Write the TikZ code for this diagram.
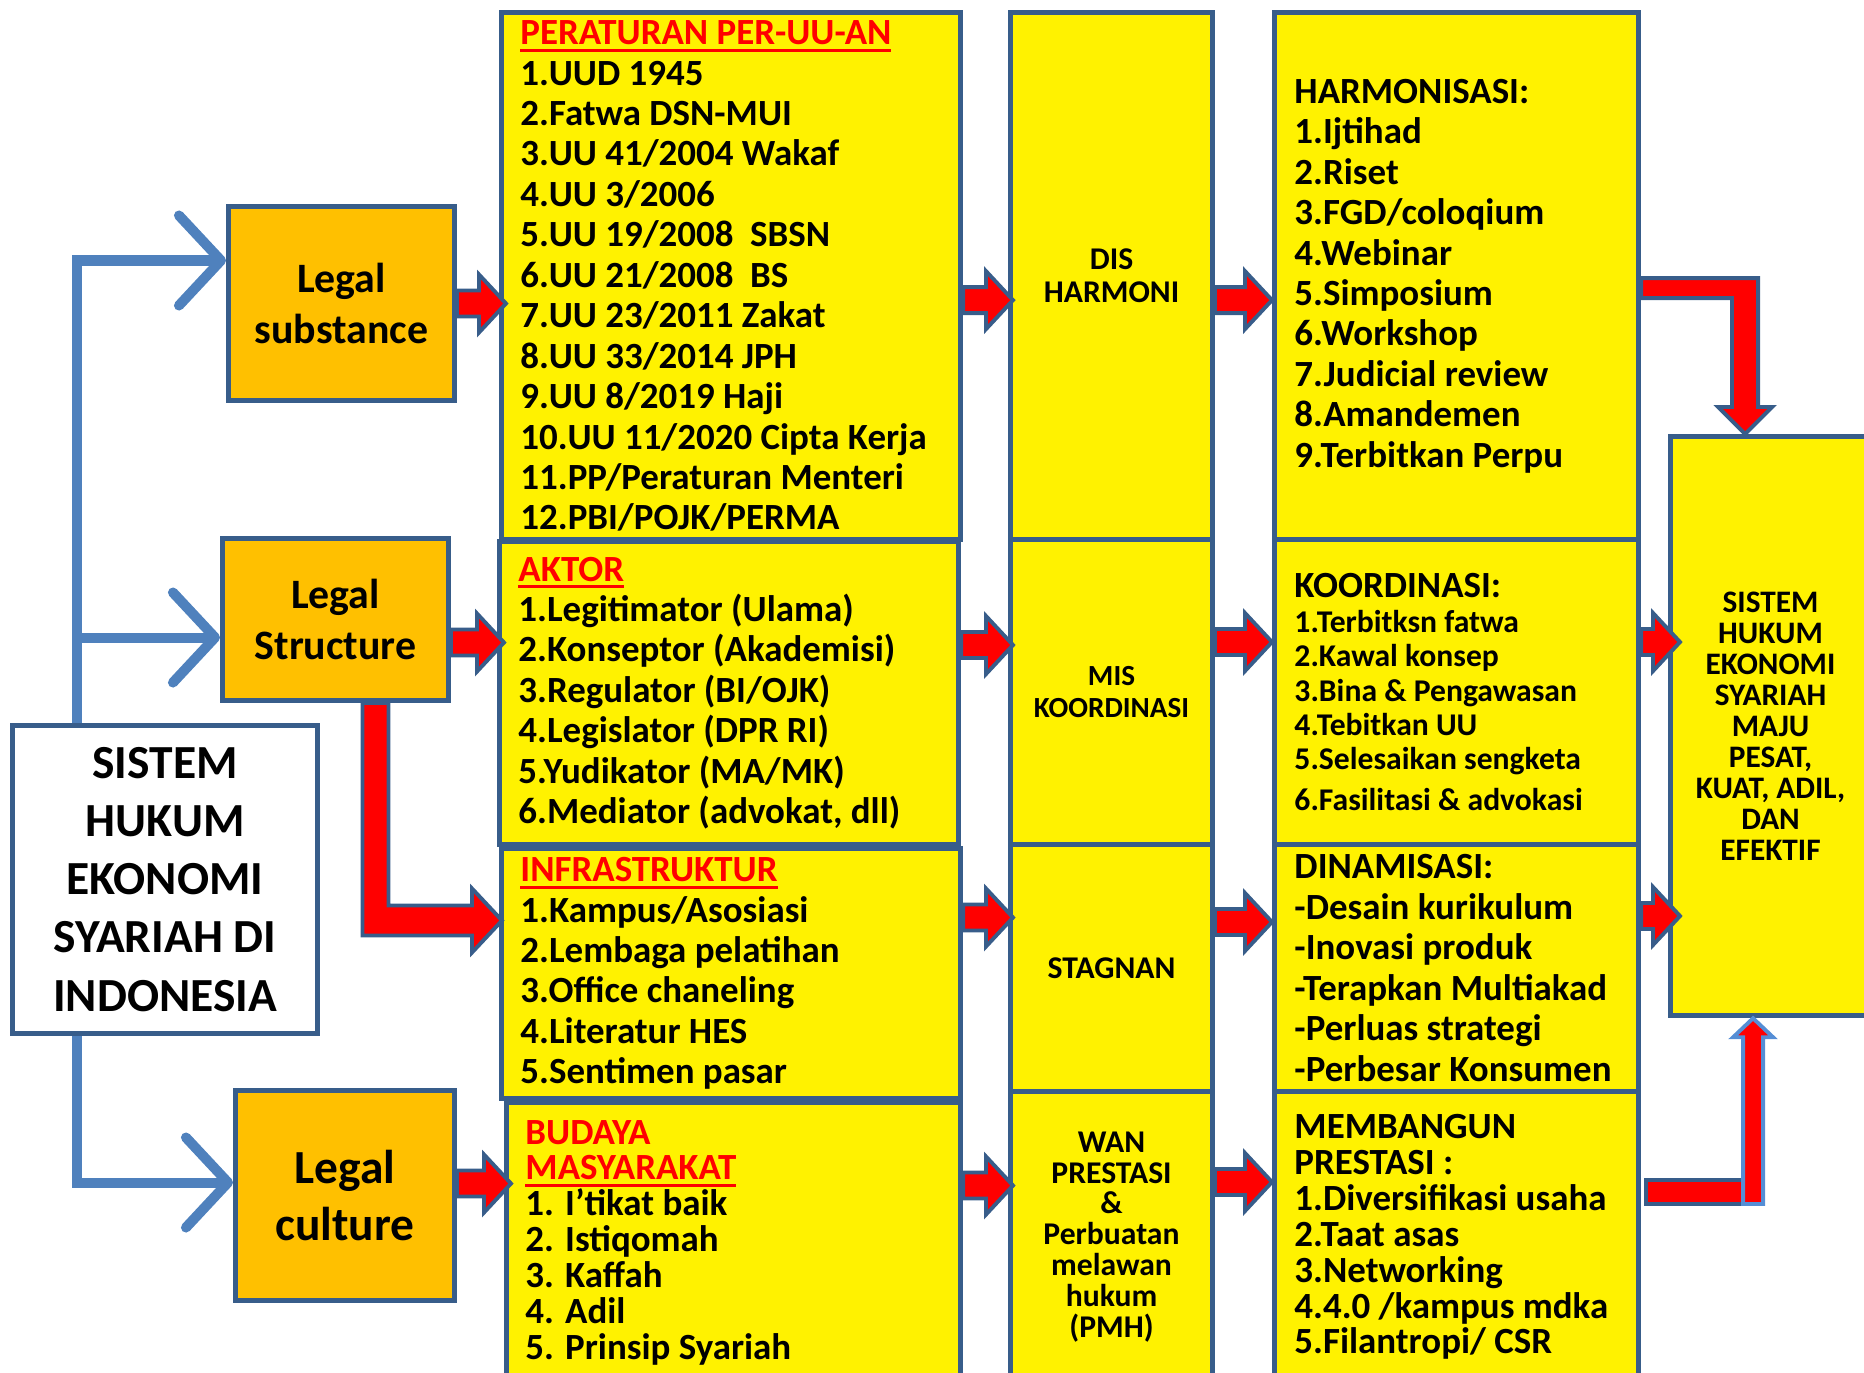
\documentclass[tikz,border=0pt]{standalone}
\usepackage{fontspec}
\setmainfont{Carlito}
\usetikzlibrary{arrows.meta,calc}

\definecolor{boxline}{RGB}{56,93,138}
\definecolor{linkblue}{RGB}{79,129,189}
\definecolor{legalorange}{RGB}{255,192,0}
\definecolor{lightline}{RGB}{85,142,213}

\newcommand{\redhead}[1]{\textcolor{red}{\setbox0\hbox{#1}\rlap{\rule[-2pt]{\wd0}{0.8pt}}\box0}}

% red block arrow, at the height of #1, tip at the x of #2
\newcommand{\blockarrow}[2]{%
\draw[redblock] let \p1=#1, \p2=#2 in
  (\x1,\y1+0.13cm) -- (\x2-0.27cm,\y1+0.13cm) -- (\x2-0.27cm,\y1+0.29cm) -- (\x2,\y1)
  -- (\x2-0.27cm,\y1-0.29cm) -- (\x2-0.27cm,\y1-0.13cm) -- (\x1,\y1-0.13cm) -- cycle;}

\begin{document}
\begin{tikzpicture}[x=0.01cm,y=-0.01cm,
  legalbox/.style={draw=boxline,line width=1.4pt,fill=legalorange,anchor=north west,align=center,inner sep=0pt,font=\bfseries\fontsize{11.9}{14.5}\selectfont},
  listbox/.style={draw=boxline,line width=1.4pt,fill=yellow,anchor=north west,align=flush left,inner xsep=0.19cm,inner ysep=0pt,font=\bfseries\fontsize{10.5}{11.5}\selectfont},
  statebox/.style={draw=boxline,line width=1.4pt,fill=yellow,anchor=north west,align=center,inner sep=0pt,minimum width=2.02cm,font=\bfseries\fontsize{9}{9.4}\selectfont},
  redblock/.style={draw=boxline,line width=1.1pt,fill=red,line join=miter},
  bluelink/.style={draw=linkblue,line width=2.85pt,-{Straight Barb[length=0.42cm,width=0.9cm,round]}}
]
\useasboundingbox (0,0) rectangle (1864,1373);

% left column
\node[legalbox,fill=white,minimum width=3.05cm,minimum height=3.08cm,font=\bfseries\fontsize{13.5}{16.5}\selectfont] (sys) at (10,723) {SISTEM\\HUKUM\\EKONOMI\\SYARIAH DI\\INDONESIA};
\node[legalbox,minimum width=2.26cm,minimum height=1.94cm] (sub) at (226,204) {Legal\\substance};
\node[legalbox,minimum width=2.26cm,minimum height=1.62cm] (struct) at (220,536) {Legal\\Structure};
\node[legalbox,minimum width=2.19cm,minimum height=2.10cm,font=\bfseries\fontsize{13.5}{16.2}\selectfont] (cult) at (233,1088) {Legal\\culture};

% second column
\node[listbox,text width=4.21cm,minimum height=5.27cm] (perat) at (499,10) {\redhead{PERATURAN PER-UU-AN}\\1.UUD 1945\\2.Fatwa DSN-MUI\\3.UU 41/2004 Wakaf\\4.UU 3/2006\\5.UU 19/2008~~SBSN\\6.UU 21/2008~~BS\\7.UU 23/2011 Zakat\\8.UU 33/2014 JPH\\9.UU 8/2019 Haji\\10.UU 11/2020 Cipta Kerja\\11.PP/Peraturan Menteri\\12.PBI/POJK/PERMA};
\node[listbox,text width=4.21cm,minimum height=3.03cm] (aktor) at (497,539) {\redhead{AKTOR}\\1.Legitimator (Ulama)\\2.Konseptor (Akademisi)\\3.Regulator (BI/OJK)\\4.Legislator (DPR RI)\\5.Yudikator (MA/MK)\\6.Mediator (advokat, dll)};
\node[listbox,text width=4.21cm,minimum height=2.50cm] (infra) at (499,846) {\redhead{INFRASTRUKTUR}\\1.Kampus/Asosiasi\\2.Lembaga pelatihan\\3.Office chaneling\\4.Literatur HES\\5.Sentimen pasar};
\node[listbox,text width=4.16cm,minimum height=2.80cm,font=\bfseries\fontsize{10.5}{10.2}\selectfont] (budaya) at (504,1100) {\textcolor{red}{BUDAYA}\\\redhead{MASYARAKAT}\\1. I’tikat baik\\2. Istiqomah\\3. Kaffah\\4. Adil\\5. Prinsip Syariah};

% third column
\node[statebox,minimum height=5.27cm] (dis) at (1008,10) {DIS\\HARMONI};
\node[statebox,minimum height=3.05cm,font=\bfseries\fontsize{8.3}{9.2}\selectfont] (mis) at (1008,537) {MIS\\KOORDINASI};
\node[statebox,minimum height=2.47cm] (stag) at (1008,842) {STAGNAN};
\node[statebox,minimum height=2.91cm,font=\bfseries\fontsize{9}{8.8}\selectfont] (wan) at (1008,1089) {WAN\\PRESTASI\\\&\\Perbuatan\\melawan\\hukum\\(PMH)};

% fourth column
\node[listbox,inner xsep=0.2cm,text width=3.24cm,minimum height=5.27cm] (harm) at (1272,10) {HARMONISASI:\\1.Ijtihad\\2.Riset\\3.FGD/coloqium\\4.Webinar\\5.Simposium\\6.Workshop\\7.Judicial review\\8.Amandemen\\9.Terbitkan Perpu};
\node[listbox,inner xsep=0.2cm,text width=3.24cm,minimum height=3.05cm] (koord) at (1272,537) {KOORDINASI:\par\fontsize{9}{9.8}\selectfont 1.Terbitksn fatwa\\2.Kawal konsep\\3.Bina \& Pengawasan\\4.Tebitkan UU\\5.Selesaikan sengketa\\6.Fasilitasi \& advokasi};
\node[listbox,inner xsep=0.2cm,text width=3.24cm,minimum height=2.47cm] (dinam) at (1272,842) {DINAMISASI:\\-Desain kurikulum\\-Inovasi produk\\-Terapkan Multiakad\\-Perluas strategi\\-Perbesar Konsumen};
\node[listbox,inner xsep=0.2cm,text width=3.24cm,minimum height=2.91cm,font=\bfseries\fontsize{10.5}{10.2}\selectfont] (memb) at (1272,1089) {MEMBANGUN\\PRESTASI :\\1.Diversifikasi usaha\\2.Taat asas\\3.Networking\\4.4.0 /kampus mdka\\5.Filantropi/ CSR};

% goal
\node[statebox,minimum width=2.0cm,minimum height=5.79cm,font=\bfseries\fontsize{8.9}{8.8}\selectfont] (goal) at (1668,434) {SISTEM\\HUKUM\\EKONOMI\\SYARIAH\\MAJU\\PESAT,\\KUAT, ADIL,\\DAN\\EFEKTIF};

% blue links
\draw[bluelink] ([xshift=0.67cm]sys.north west) |- ([yshift=0.43cm]sub.west);
\draw[bluelink] ([xshift=0.67cm]sys.north west) |- ([yshift=-0.18cm]struct.west);
\draw[bluelink] ([xshift=0.67cm]sys.south west) |- ([yshift=0.13cm]cult.west);

% red arrows
\blockarrow{(sub.east)}{([xshift=0.07cm]perat.west)}
\blockarrow{([yshift=-0.23cm]struct.east)}{([xshift=0.07cm]aktor.west)}
\blockarrow{([yshift=0.12cm]cult.east)}{([xshift=0.07cm]budaya.west)}
\draw[redblock] let \p1=([xshift=0.40cm]struct.south), \p2=([xshift=0.03cm,yshift=0.53cm]infra.west) in
  (\x1-0.13cm,\y1) -- (\x1-0.13cm,\y2-0.15cm) -- (\x2-0.30cm,\y2-0.15cm) -- (\x2-0.30cm,\y2-0.32cm) -- (\x2,\y2)
  -- (\x2-0.30cm,\y2+0.32cm) -- (\x2-0.30cm,\y2+0.15cm) -- (\x1+0.13cm,\y2+0.15cm) -- (\x1+0.13cm,\y1) -- cycle;

\blockarrow{([yshift=-0.24cm]perat.east)}{([xshift=0.05cm]dis.west)}
\blockarrow{([yshift=0.48cm]aktor.east)}{([xshift=0.05cm]mis.west)}
\blockarrow{([yshift=0.56cm]infra.east)}{([xshift=0.05cm]stag.west)}
\blockarrow{([yshift=0.57cm]budaya.east)}{([xshift=0.05cm]wan.west)}

\blockarrow{([yshift=-0.24cm]dis.east)}{(harm.west)}
\blockarrow{([yshift=0.50cm]mis.east)}{(koord.west)}
\blockarrow{([yshift=0.46cm]stag.east)}{(dinam.west)}
\blockarrow{([yshift=0.55cm]wan.east)}{(memb.west)}

\blockarrow{([yshift=0.50cm]koord.east)}{([xshift=0.12cm]goal.west)}
\blockarrow{([yshift=0.52cm]dinam.east)}{([xshift=0.12cm]goal.west)}

\draw[redblock] let \p1=([yshift=-0.12cm]harm.east), \p2=([xshift=0.77cm]goal.north west) in
  (\x1,\y1+0.10cm) -- (\x2+0.13cm,\y1+0.10cm) -- (\x2+0.13cm,\y2+0.27cm) -- (\x2+0.27cm,\y2+0.27cm) -- (\x2,\y2)
  -- (\x2-0.27cm,\y2+0.27cm) -- (\x2-0.13cm,\y2+0.27cm) -- (\x2-0.13cm,\y1-0.10cm) -- (\x1,\y1-0.10cm) -- cycle;

\draw[redblock] let \p1=([yshift=0.45cm]memb.east), \p2=([xshift=0.85cm]goal.south west) in
  (\x1+0.05cm,\y1-0.12cm) rectangle (\x2,\y1+0.12cm);
\draw[redblock,draw=lightline] let \p1=([yshift=0.45cm]memb.east), \p2=([xshift=0.85cm]goal.south west) in
  (\x2-0.10cm,\y1-0.12cm) -- (\x2-0.10cm,\y2-0.19cm) -- (\x2-0.20cm,\y2-0.19cm) -- (\x2,\y2)
  -- (\x2+0.20cm,\y2-0.19cm) -- (\x2+0.10cm,\y2-0.19cm) -- (\x2+0.10cm,\y1-0.12cm) -- cycle;
\end{tikzpicture}
\end{document}
